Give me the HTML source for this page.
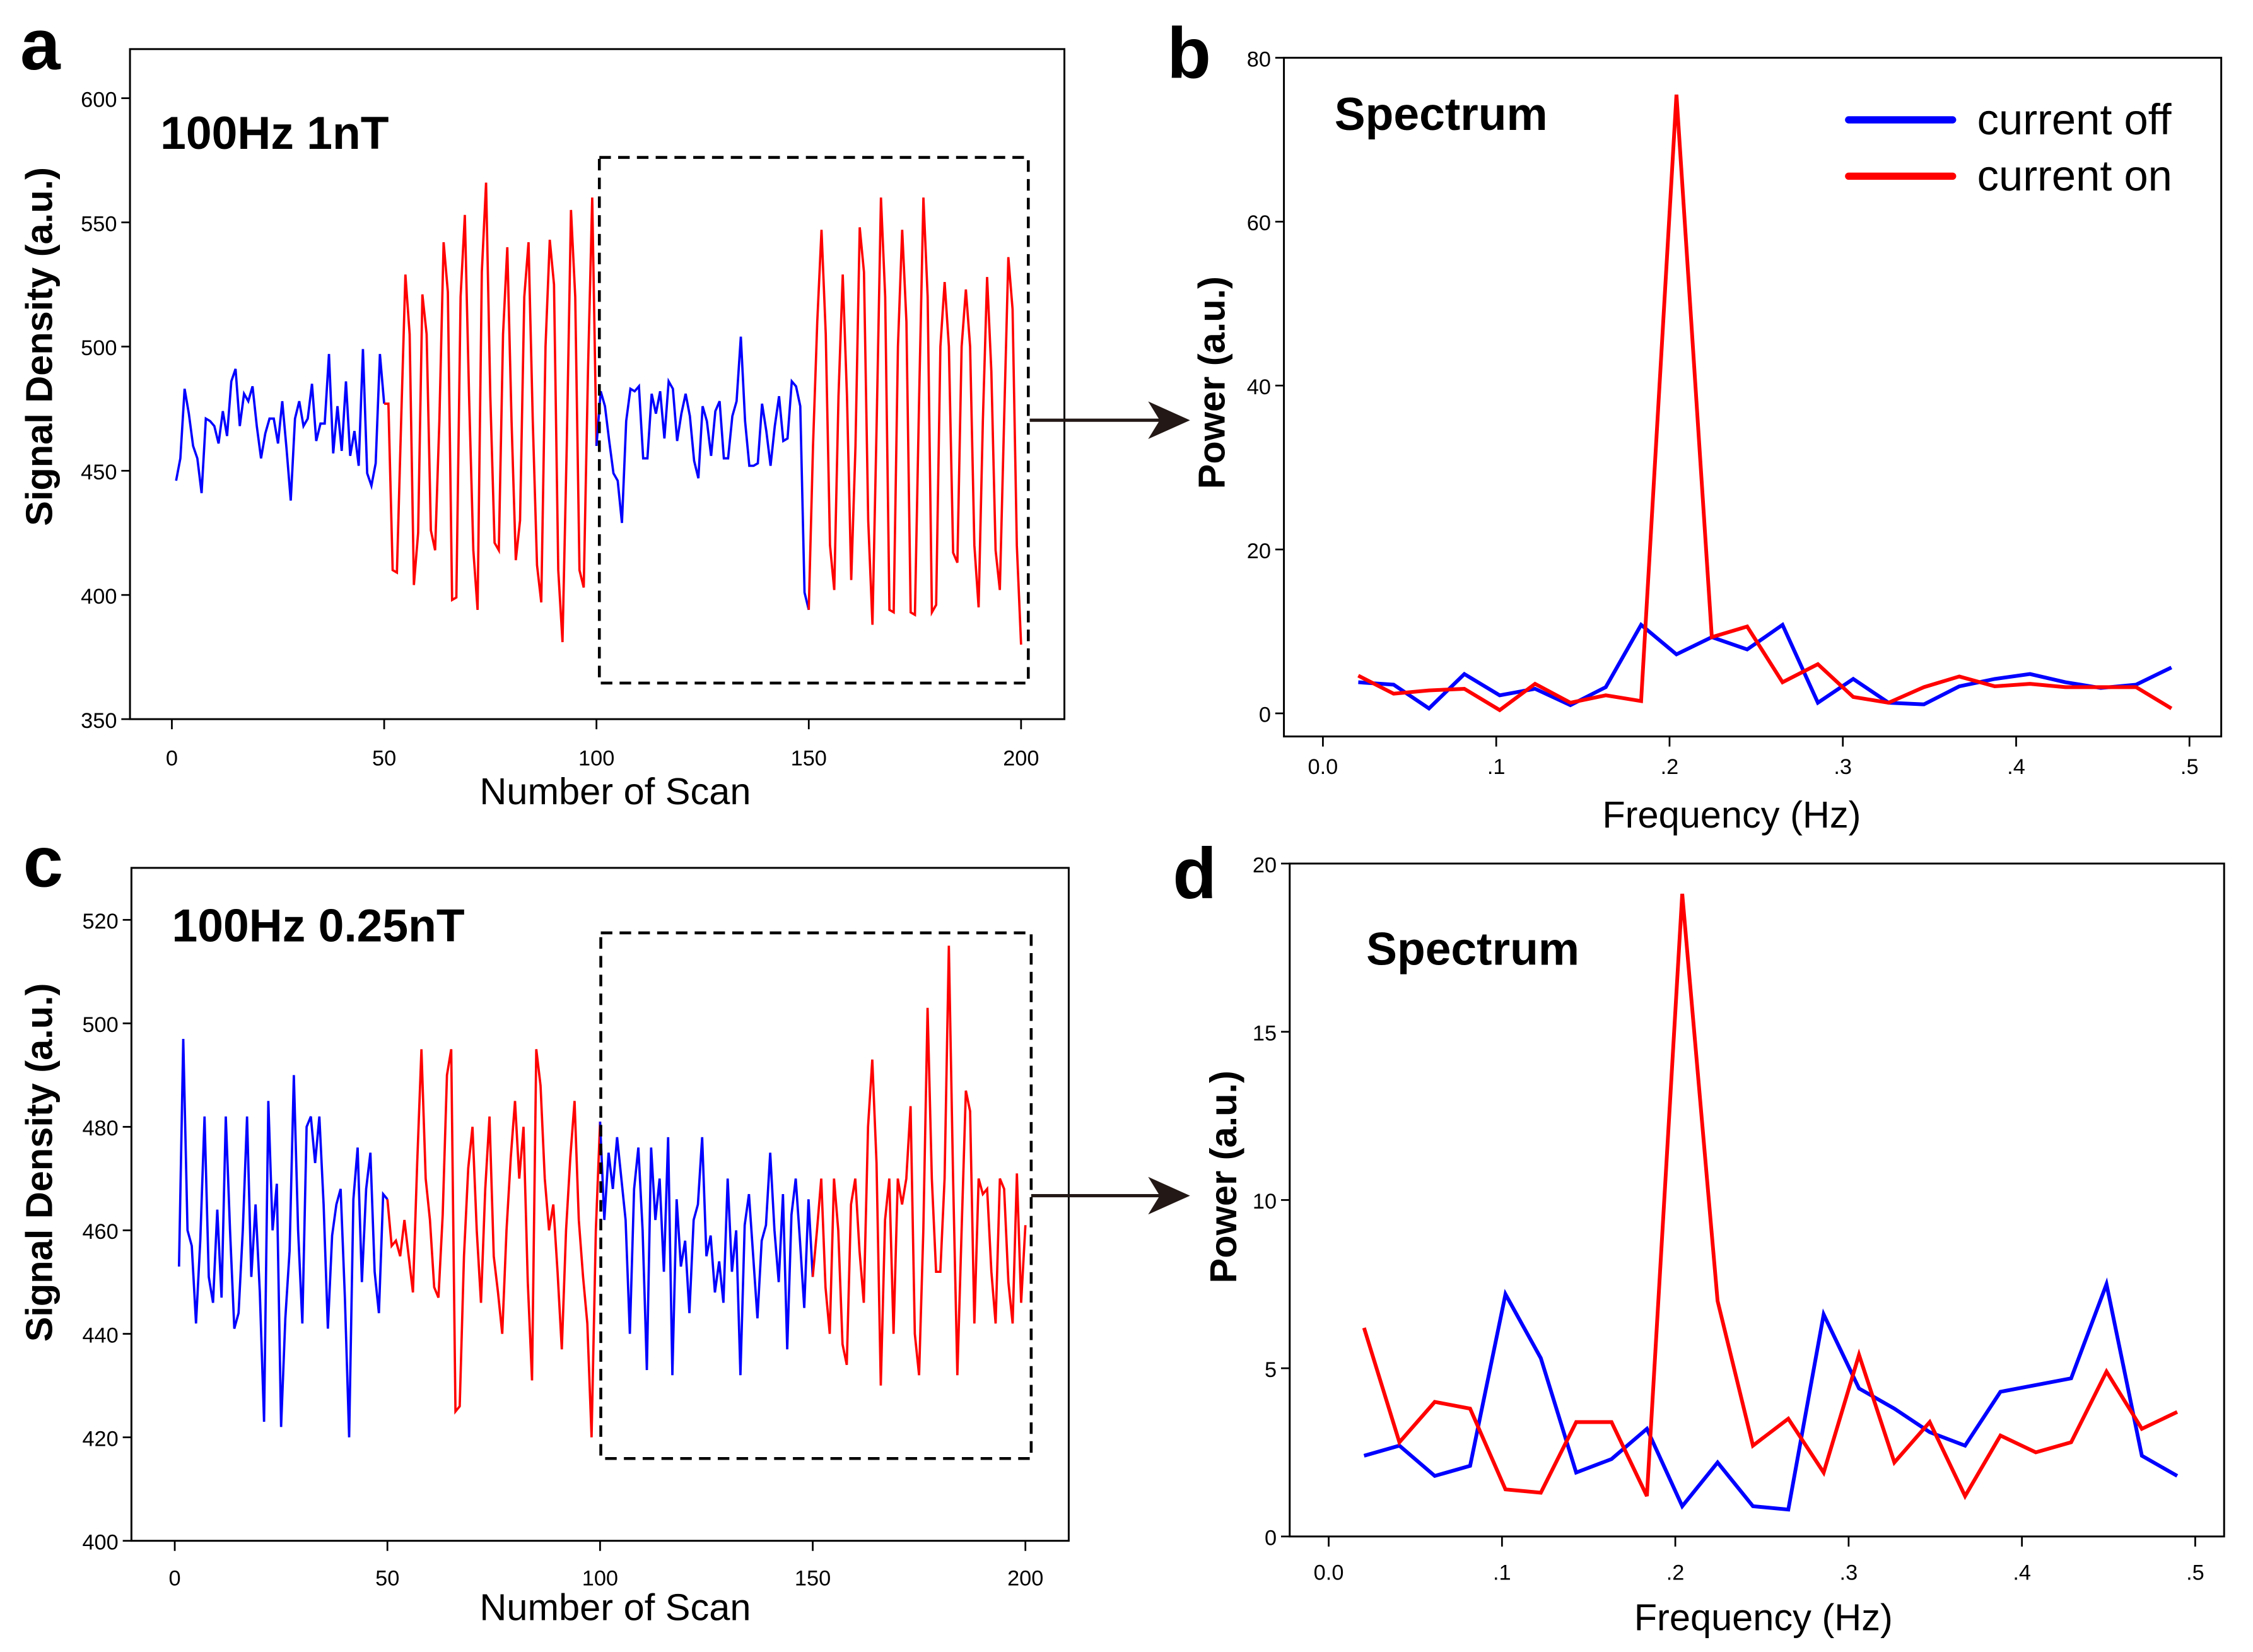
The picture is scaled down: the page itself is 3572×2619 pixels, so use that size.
<!DOCTYPE html>
<html><head><meta charset="utf-8"><style>
html,body{margin:0;padding:0;background:#fff}
svg{display:block}
text{font-family:"Liberation Sans",sans-serif;fill:#000}
.tk{font-size:15px}
.ttl{font-size:26px}
.lbl{font-size:26px;font-weight:bold}
.big{font-size:32px;font-weight:bold}
.leg{font-size:30px}
.let{font-size:50px;font-weight:bold}
</style></head><body>
<svg id="fig" width="3572" height="2619" viewBox="0 0 1560 1144" preserveAspectRatio="none" xmlns="http://www.w3.org/2000/svg">
<g id="root"></g>
</svg>
<script>
// ---- Panel a data (scan 1..200)
const aBlue1=[446,455,483,473,460,455,441,471,470,468,461,474,464,486,491,468,481,478,484,468,455,465,471,471,461,478,459,438,471,478,468,471,485,462,469,469,497,457,476,458,486,456,466,452,499,449,444,453,497,477];
const aRed1=[477,410,409,470,529,505,404,425,521,505,426,418,470,542,522,398,399,520,553,480,418,394,530,566,480,421,418,505,540,470,414,430,520,542,470,412,397,500,543,525,410,381,460,555,520,410,403,490,560,460];
const aBlue2=[482,476,462,449,446,429,470,483,482,484,455,455,481,473,482,463,486,483,462,473,481,472,454,447,476,470,456,474,478,455,455,472,478,504,470,452,452,453,477,466,452,468,480,462,463,486,484,476,401,394];
const aRed2=[460,510,547,505,420,402,480,529,480,406,460,548,530,430,388,470,560,520,394,393,500,547,510,393,392,480,560,520,393,396,500,526,500,417,413,500,523,500,420,395,470,528,490,418,402,470,536,515,420,380];
// ---- Panel c data
const cBlue1=[453,497,460,457,442,458,482,451,446,464,447,482,460,441,444,460,482,451,465,448,423,485,460,469,422,443,456,490,460,442,480,482,473,482,465,441,459,465,468,447,420,466,476,450,468,475,452,444,467,466];
const cRed1=[457,458,455,462,455,448,473,495,470,462,449,447,463,490,495,425,426,455,472,480,460,446,468,482,455,448,440,460,474,485,470,480,450,431,495,488,470,460,465,452,437,460,474,485,462,451,442,420,460,481];
const cBlue2=[462,475,468,478,470,462,440,468,476,460,433,476,462,470,452,478,432,466,453,458,444,462,465,478,455,459,448,454,446,470,452,460,432,461,467,455,443,458,461,475,460,450,467,437,463,470,458,445,466,451];
const cRed2=[460,470,449,440,470,460,438,434,465,470,456,446,480,493,473,430,462,470,440,470,465,470,484,440,432,460,503,470,452,452,470,515,470,432,460,487,483,442,470,467,468,452,442,470,468,450,442,471,446,461];
// ---- Spectra (freq = k*0.0204, k=1..24)
const bOff=[3.8,3.5,0.6,4.8,2.2,3.0,1.0,3.2,10.8,7.2,9.3,7.8,10.8,1.3,4.2,1.3,1.1,3.3,4.2,4.8,3.8,3.1,3.5,5.6];
const bOn=[4.6,2.4,2.8,3.0,0.4,3.6,1.3,2.2,1.5,75.5,9.3,10.6,3.8,6.0,2.0,1.3,3.2,4.5,3.3,3.6,3.2,3.2,3.2,0.6];
const dOff=[2.4,2.7,1.8,2.1,7.2,5.3,1.9,2.3,3.2,0.9,2.2,0.9,0.8,6.6,4.4,3.8,3.1,2.7,4.3,4.5,4.7,7.5,2.4,1.8];
const dOn=[6.2,2.8,4.0,3.8,1.4,1.3,3.4,3.4,1.2,19.1,7.0,2.7,3.5,1.9,5.4,2.2,3.4,1.2,3.0,2.5,2.8,4.9,3.2,3.7];
const scanTicks=[0,50,100,150,200];
const aYTicks=[350,400,450,500,550,600];
const cYTicks=[400,420,440,460,480,500,520];
const freqTicks=[0,0.1,0.2,0.3,0.4,0.5];
const freqTickLabels=["0.0",".1",".2",".3",".4",".5"];
const bYTicks=[0,20,40,60,80];
const dYTicks=[0,5,10,15,20];

const NS="http://www.w3.org/2000/svg";
const root=document.getElementById('root');
function mk(tag,attrs,parent){const e=document.createElementNS(NS,tag);for(const k in attrs)e.setAttribute(k,attrs[k]);(parent||root).appendChild(e);return e;}
function txt(s,x,y,cls,anchor,parent,extra){const t=mk('text',Object.assign({x:x,y:y,class:cls,'text-anchor':anchor||'start'},extra||{}),parent);t.textContent=s;return t;}
function lin(d0,d1,r0,r1){return v=>r0+(v-d0)*(r1-r0)/(d1-d0);}

function panel(o){
  const g=mk('g',{});
  
  
  const X=lin(o.xd[0],o.xd[1],o.xr[0],o.xr[1]);
  const Y=lin(o.yd[0],o.yd[1],o.yr[0],o.yr[1]);
  const box=mk('rect',{x:o.box[0],y:o.box[1],width:o.box[2]-o.box[0],height:o.box[3]-o.box[1],fill:'none',stroke:'#000','stroke-width':1.3},g);
  
  
  const ya=mk('g',{},g);
  
  
  o.yt.forEach(v=>{const y=Y(v);mk('line',{x1:o.box[0]-6,x2:o.box[0],y1:y,y2:y,stroke:'#000','stroke-width':1.2},ya);
    const t=txt(String(v),o.box[0]-9,y+6,'tk','end',ya);});
  const xa=mk('g',{},g);
  
  
  o.xt.forEach((v,i)=>{const x=X(v);mk('line',{x1:x,x2:x,y1:o.box[3],y2:o.box[3]+7,stroke:'#000','stroke-width':1.2},xa);
    const t=txt(o.xtl?o.xtl[i]:String(v),x,o.xly,'tk','middle',xa);});
  o.series.forEach(s=>{
    const pts=s.vals.map((v,i)=>X(s.x(i)).toFixed(2)+','+Y(v).toFixed(2)).join(' ');
    const p=mk('polyline',{points:pts,fill:'none',stroke:s.color,'stroke-width':s.w,'stroke-linejoin':'miter'},g);
    
    
  });
  const xt=txt(o.xTitle,o.xTitlePos[0],o.xTitlePos[1],'ttl','middle',g);
  
  
  const yt=txt(o.yTitle,0,0,'lbl','middle',g,{transform:`translate(${o.yTitlePos[0]},${o.yTitlePos[1]}) rotate(-90)`});
  
  
  const lt=txt(o.letter,o.letterPos[0],o.letterPos[1],'let','start',g);
  
  
  const it=txt(o.inner,o.innerPos[0],o.innerPos[1],'big','start',g);
  
  
  return {g,X,Y};
}
function timeSeries(b1,r1,b2,r2){
  const full=[].concat(b1,r1,b2,r2);
  const segs=[[0,49,'#0000ff'],[49,99,'#ff0000'],[99,149,'#0000ff'],[149,199,'#ff0000']];
  return segs.map(([s,e,c],k)=>({vals:full.slice(s,e+1),x:(i=>s+1+i),color:c,w:1.6,name:(c==='#0000ff'?'current-off-trace-':'current-on-trace-')+(k+1)}));
}
const fx=i=>(i+1)*0.0204;

panel({name:'panel-a',box:[90,34,737,498],xd:[0,200],xr:[119,707],yd:[350,600],yr:[498,68],
  yt:aYTicks,xt:scanTicks,xly:530,series:timeSeries(aBlue1,aRed1,aBlue2,aRed2),
  xTitle:'Number of Scan',xTitlePos:[426,557],yTitle:'Signal Density (a.u.)',yTitlePos:[36,240],
  letter:'a',letterPos:[14,48],inner:'100Hz 1nT',innerPos:[111,103]});
panel({name:'panel-c',box:[91,601,740,1067],xd:[0,200],xr:[121,710],yd:[400,520],yr:[1067,637],
  yt:cYTicks,xt:scanTicks,xly:1098,series:timeSeries(cBlue1,cRed1,cBlue2,cRed2),
  xTitle:'Number of Scan',xTitlePos:[426,1122],yTitle:'Signal Density (a.u.)',yTitlePos:[36,805],
  letter:'c',letterPos:[16,614],inner:'100Hz 0.25nT',innerPos:[119,652]});
panel({name:'panel-b',box:[889,40,1538,510],xd:[0,0.5],xr:[916,1516],yd:[0,80],yr:[494,40],
  yt:bYTicks,xt:freqTicks,xtl:freqTickLabels,xly:536,
  series:[{vals:bOff,x:fx,color:'#0000ff',w:2.6,name:'current-off-spectrum'},{vals:bOn,x:fx,color:'#ff0000',w:2.6,name:'current-on-spectrum'}],
  xTitle:'Frequency (Hz)',xTitlePos:[1199,573],yTitle:'Power (a.u.)',yTitlePos:[848,265],
  letter:'b',letterPos:[808,54],inner:'Spectrum',innerPos:[924,90]});
panel({name:'panel-d',box:[893,598,1540,1064],xd:[0,0.5],xr:[920,1520],yd:[0,20],yr:[1064,598],
  yt:dYTicks,xt:freqTicks,xtl:freqTickLabels,xly:1094,
  series:[{vals:dOff,x:fx,color:'#0000ff',w:2.6,name:'current-off-spectrum'},{vals:dOn,x:fx,color:'#ff0000',w:2.6,name:'current-on-spectrum'}],
  xTitle:'Frequency (Hz)',xTitlePos:[1221,1129],yTitle:'Power (a.u.)',yTitlePos:[856,815],
  letter:'d',letterPos:[812,622],inner:'Spectrum',innerPos:[946,668]});

const lg=mk('g',{});


[['current off','#0000ff',83],['current on','#ff0000',122]].forEach(([l,c,y])=>{
  const e=mk('g',{},lg);
  
  
  mk('line',{x1:1280,x2:1352,y1:y,y2:y,stroke:c,'stroke-width':5,'stroke-linecap':'round'},e);
  txt(l,1369,y+10,'leg','start',e);
});

[[415,109,712,473,291,713],[416,646,714,1010,828,714]].forEach(([x0,y0,x1,y1,ay,ax],i)=>{
  const r=mk('rect',{x:x0,y:y0,width:x1-x0,height:y1-y0,fill:'none',stroke:'#000','stroke-width':2,'stroke-dasharray':'8,5'});
  
  
  const a=mk('g',{});
  
  
  mk('line',{x1:ax,x2:812,y1:ay,y2:ay,stroke:'#231815','stroke-width':2.2},a);
  mk('polygon',{points:`795,${ay-13} 824,${ay} 795,${ay+13} 803,${ay}`,fill:'#231815'},a);
});
</script>
</body></html>
